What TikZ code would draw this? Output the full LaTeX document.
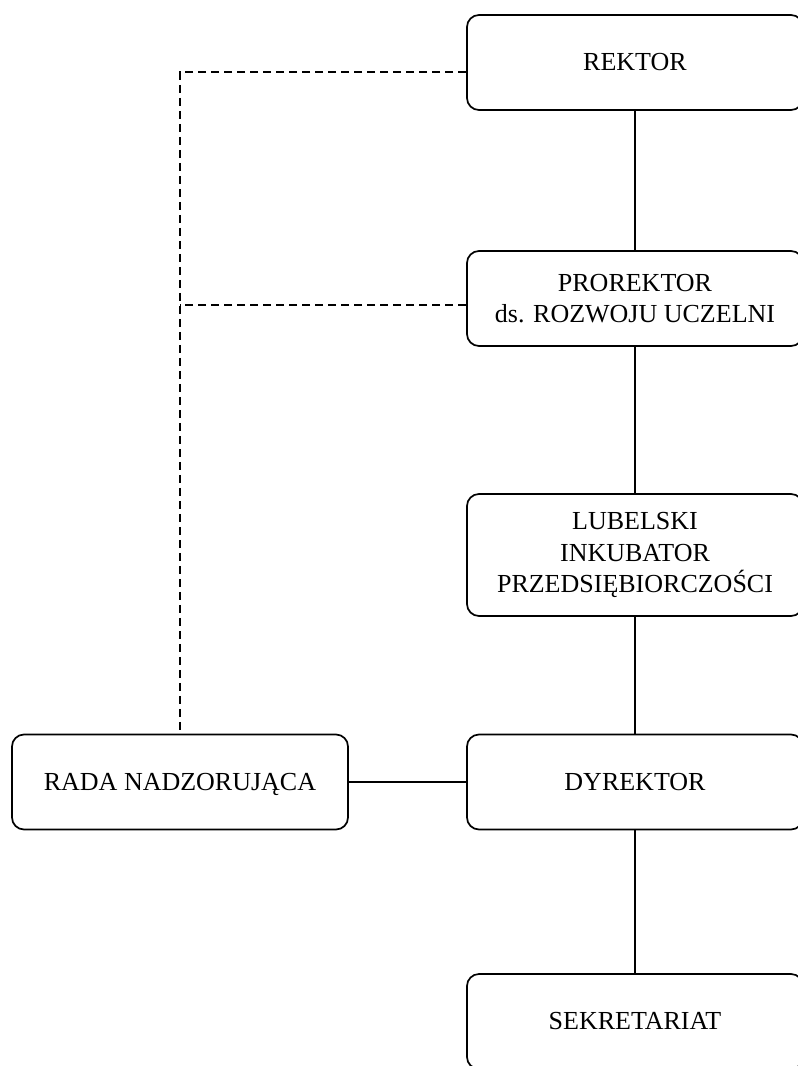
\documentclass[tikz,border=0pt]{standalone}
\usepackage{fontspec}
\setmainfont{Liberation Serif}
\begin{document}
\begin{tikzpicture}[x=1pt,y=-1pt,
  box/.style={draw=black, line width=1.7pt, rounded corners=12pt, minimum width=336pt, minimum height=95pt, align=center, inner sep=0pt, font=\fontsize{26}{31.5}\selectfont},
  solidline/.style={line width=1.7pt},
  dashline/.style={line width=1.7pt, dash pattern=on 8pt off 5pt}]
\useasboundingbox (0,0) rectangle (798,1066);
\clip (0,0) rectangle (798,1066);
\node[box] (rektor) at (635,62.5) {REKTOR};
\node[box] (prorektor) at (635,298.5) {PROREKTOR\\ds. ROZWOJU UCZELNI};
\node[box, minimum height=122pt] (lip) at (635,555) {LUBELSKI\\INKUBATOR\\PRZEDSIĘBIORCZOŚCI};
\node[box] (dyrektor) at (635,782) {DYREKTOR};
\node[box] (sekretariat) at (635,1021.5) {SEKRETARIAT};
\node[box, text depth=0pt] (rada) at (180,782) {RADA NADZORUJĄCA\vphantom{Ą}};
\draw[solidline] (rektor.south) -- (prorektor.north);
\draw[solidline] (prorektor.south) -- (lip.north);
\draw[solidline] (lip.south) -- (dyrektor.north);
\draw[solidline] (dyrektor.south) -- (sekretariat.north);
\draw[solidline] (rada.east) -- (rada.east -| dyrektor.west);
\coordinate (d1) at (180,72);
\coordinate (d2) at (180,305);
\draw[dashline] (d1 -| rektor.west) -- (d1) -- (rada.north);
\draw[dashline] (d2 -| prorektor.west) -- (d2);
\end{tikzpicture}
\end{document}
